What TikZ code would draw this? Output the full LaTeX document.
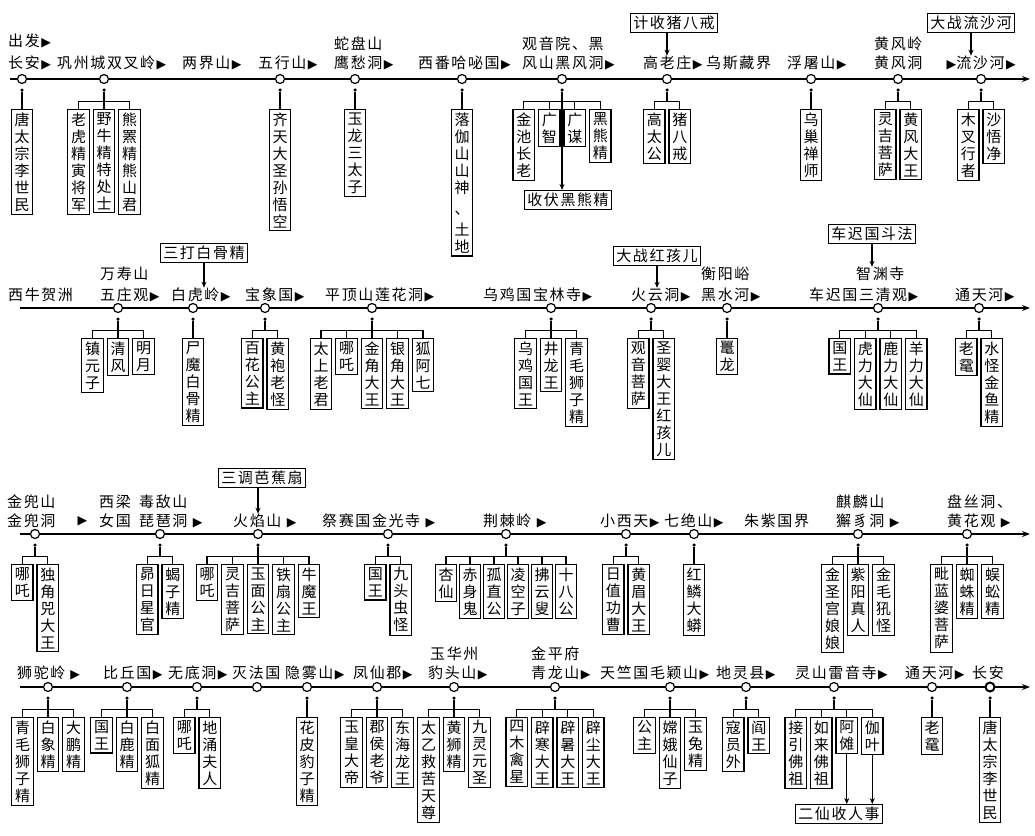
\documentclass[tikz,border=0pt]{standalone}
\usepackage{fontspec}
\setmainfont{Noto Sans CJK SC}
\newfontfamily\symfont{DejaVu Sans}
\newcommand\tri{\hspace{1.5pt}{\symfont\fontsize{12.5}{12}\selectfont ▶}}
% a little air between the Chinese characters of a label
\newXeTeXintercharclass\hanclass
\newcount\hanc
\hanc="4E00
\loop
  \XeTeXcharclass\hanc=\hanclass
  \advance\hanc 1
\ifnum\hanc<"A000 \repeat
\XeTeXcharclass"3001=\hanclass
\XeTeXinterchartokenstate=1
\XeTeXinterchartoks\hanclass\hanclass = {\hskip 1.6pt\relax}
\usetikzlibrary{arrows.meta,positioning,trees}

\tikzset{
  stop/.style={circle,draw,fill=white,line width=1.2pt,minimum size=9pt,inner sep=0pt},
  joint/.style={circle,fill,inner sep=0pt,minimum size=3.5pt},
  cast/.style={draw,line width=1.1pt,align=center,anchor=north,inner xsep=3.25pt,inner ysep=3pt,
    font=\fontsize{15}{17}\selectfont},
  tag/.style={anchor=west,inner sep=0pt,font=\fontsize{15}{16}\selectfont},
  note/.style={draw,line width=1.1pt,inner xsep=3pt,inner ysep=2.5pt,font=\fontsize{15}{16}\selectfont},
  route/.style={line width=1.2pt,-{Stealth[length=8pt,width=6pt]}},
  hint/.style={line width=1.1pt,-{Stealth[length=6pt,width=5pt]}}
}

\begin{document}
\begin{tikzpicture}
[
x = 1pt, y = -1pt,
level distance = 19pt,
sibling distance = 25.5pt,
edge from parent fork down,
parent anchor = south, child anchor = north,
edge from parent/.style = {draw,line width=1.1pt},
every child node/.style = {cast}
]
\useasboundingbox (0,0) rectangle (1035,835);

% ---- row 1
\coordinate (r1s) at (10,79);
\coordinate (r1e) at (1030,79);
\draw[route] (r1s) -- (r1e);

\node[tag] (chufa) at (8,41) {出发\tri};
\node[tag] (ca1-l) at (8,63) {长安\tri};
\node[tag] (gz-l) at (57,63) {巩州城双叉岭\tri};
\node[tag] (ljs-l) at (182,63) {两界山\tri};
\node[tag] (wxs-l) at (258,63) {五行山\tri};
\node[tag] (sps-l1) at (334,44) {蛇盘山};
\node[tag] (sps-l) at (334,63) {鹰愁洞\tri};
\node[tag] (xf-l) at (418,63) {西番哈咇国\tri};
\node[tag] (gy-l1) at (522,44) {观音院、黑};
\node[tag] (gy-l) at (522,63) {风山黑风洞\tri};
\node[tag] (gl-l) at (643,63) {高老庄\tri};
\node[tag] (wsz-l) at (706,63) {乌斯藏界};
\node[tag] (fts-l) at (787,63) {浮屠山\tri};
\node[tag] (hf-l1) at (874,44) {黄风岭};
\node[tag] (hf-l) at (874,63) {黄风洞};
\node[tag] (lsh-l) at (945,63) {\tri 流沙河\tri};

\node[stop] (ca1) at (22,79) {};
\node[stop] (gz) at (104,79) {};
\node[stop] (wxs) at (280,79) {};
\node[stop] (sps) at (355,79) {};
\node[stop] (xf) at (462,79) {};
\node[stop] (gy) at (562,79) {};
\node[stop] (gl) at (667,79) {};
\node[stop] (fts) at (811,79) {};
\node[stop] (hf) at (898,79) {};
\node[stop] (lsh) at (981,79) {};

\node[joint] (ca1-d) at (22,90) {}
    child {node (ca1-1) {唐\\太\\宗\\李\\世\\民}};
\node[joint] (gz-d) at (104,90) {}
    child {node (gz-1) {老\\虎\\精\\寅\\将\\军}}
    child {node (gz-2) {野\\牛\\精\\特\\处\\士}}
    child {node (gz-3) {熊\\罴\\精\\熊\\山\\君}};
\node[joint] (wxs-d) at (280,90) {}
    child {node (wxs-1) {齐\\天\\大\\圣\\孙\\悟\\空}};
\node[joint] (sps-d) at (355,90) {}
    child {node (sps-1) {玉\\龙\\三\\太\\子}};
\node[joint] (xf-d) at (462,90) {}
    child {node (xf-1) {落\\伽\\山\\山\\神\\[4pt]、\\[4pt]土\\地}};
\node[joint] (gy-d) at (562,90) {}
    child {node (gy-1) {金\\池\\长\\老}}
    child {node (gy-2) {广\\智}}
    child {node (gy-3) {广\\谋}}
    child {node (gy-4) {黑\\熊\\精}};
\node[joint] (gl-d) at (667,90) {}
    child {node (gl-1) {高\\太\\公}}
    child {node (gl-2) {猪\\八\\戒}};
\node[joint] (fts-d) at (811,90) {}
    child {node (fts-1) {乌\\巢\\禅\\师}};
\node[joint] (hf-d) at (898,90) {}
    child {node (hf-1) {灵\\吉\\菩\\萨}}
    child {node (hf-2) {黄\\风\\大\\王}};
\node[joint] (lsh-d) at (981,90) {}
    child {node (lsh-1) {木\\叉\\行\\者}}
    child {node (lsh-2) {沙\\悟\\净}};

\node[note] (shou) at (568,200) {收伏黑熊精};
\draw[hint] (gy-d) -- (gy-d |- shou.north);
\node[note] (jb) at (674,23) {计收猪八戒};
\draw[hint] (jb.south -| gl) -- (gl-l.north -| gl);
\node[note] (dzls) at (971,23) {大战流沙河};
\draw[hint] (dzls.south) -- (dzls.south |- lsh-l.north);

% ---- row 2
\coordinate (r2s) at (20,308);
\coordinate (r2e) at (1030,308);
\draw[route] (r2s) -- (r2e);

\node[tag] (xn-l) at (8,295) {西牛贺洲};
\node[tag] (wz-l1) at (100,274) {万寿山};
\node[tag] (wz-l) at (100,295) {五庄观\tri};
\node[tag] (bh-l) at (171,295) {白虎岭\tri};
\node[tag] (bx-l) at (245,295) {宝象国\tri};
\node[tag] (pd-l) at (325,295) {平顶山莲花洞\tri};
\node[tag] (wj-l) at (483,295) {乌鸡国宝林寺\tri};
\node[tag] (hy-l) at (631,295) {火云洞\tri};
\node[tag] (hs-l1) at (701,274) {衡阳峪};
\node[tag] (hs-l) at (701,295) {黑水河\tri};
\node[tag] (cc-l1) at (856,274) {智渊寺};
\node[tag] (cc-l) at (809,295) {车迟国三清观\tri};
\node[tag] (tt-l) at (955,295) {通天河\tri};

\node[stop] (wz) at (118,308) {};
\node[stop] (bh) at (193,308) {};
\node[stop] (bx) at (265,308) {};
\node[stop] (pd) at (372,308) {};
\node[stop] (wj) at (551,308) {};
\node[stop] (hy) at (651,308) {};
\node[stop] (hs) at (727,308) {};
\node[stop] (cc) at (878,308) {};
\node[stop] (tt) at (979,308) {};

\node[joint] (wz-d) at (118,319) {}
    child {node (wz-1) {镇\\元\\子}}
    child {node (wz-2) {清\\风}}
    child {node (wz-3) {明\\月}};
\node[joint] (bh-d) at (193,319) {}
    child {node (bh-1) {尸\\魔\\白\\骨\\精}};
\node[joint] (bx-d) at (265,319) {}
    child {node (bx-1) {百\\花\\公\\主}}
    child {node (bx-2) {黄\\袍\\老\\怪}};
\node[joint] (pd-d) at (372,319) {}
    child {node (pd-1) {太\\上\\老\\君}}
    child {node (pd-2) {哪\\吒}}
    child {node (pd-3) {金\\角\\大\\王}}
    child {node (pd-4) {银\\角\\大\\王}}
    child {node (pd-5) {狐\\阿\\七}};
\node[joint] (wj-d) at (551,319) {}
    child {node (wj-1) {乌\\鸡\\国\\王}}
    child {node (wj-2) {井\\龙\\王}}
    child {node (wj-3) {青\\毛\\狮\\子\\精}};
\node[joint] (hy-d) at (651,319) {}
    child {node (hy-1) {观\\音\\菩\\萨}}
    child {node (hy-2) {圣\\婴\\大\\王\\红\\孩\\儿}};
\node[joint] (hs-d) at (727,319) {}
    child {node (hs-1) {鼍\\龙}};
\node[joint] (cc-d) at (878,319) {}
    child {node (cc-1) {国\\王}}
    child {node (cc-2) {虎\\力\\大\\仙}}
    child {node (cc-3) {鹿\\力\\大\\仙}}
    child {node (cc-4) {羊\\力\\大\\仙}};
\node[joint] (tt-d) at (979,319) {}
    child {node (tt-1) {老\\鼋}}
    child {node (tt-2) {水\\怪\\金\\鱼\\精}};

\node[note] (sdbg) at (204,253) {三打白骨精};
\draw[hint] (sdbg.south) -- (sdbg.south |- bh-l.north);
\node[note] (dzhh) at (657,256) {大战红孩儿};
\draw[hint] (dzhh.south) -- (dzhh.south |- hy-l.north);
\node[note] (ccdf) at (872,234) {车迟国斗法};
\draw[hint] (ccdf.south) -- (ccdf.south |- cc-l1.north);

% ---- row 3
\coordinate (r3s) at (20,534);
\coordinate (r3e) at (1030,534);
\draw[route] (r3s) -- (r3e);

\node[tag] (jd-l1) at (7,502) {金兜山};
\node[tag] (jd-l) at (7,521) {金兜洞};
\node[tag] (jd-a) at (76,521) {\tri};
\node[tag] (xl-l1) at (99,502) {西梁};
\node[tag] (xl-l) at (99,521) {女国};
\node[tag] (pp-l1) at (139,502) {毒敌山};
\node[tag] (pp-l) at (139,521) {琵琶洞\hspace{4pt}\tri};
\node[tag] (hys-l) at (233,521) {火焰山\hspace{4pt}\tri};
\node[tag] (jg-l) at (322,521) {祭赛国金光寺\hspace{4pt}\tri};
\node[tag] (jj-l) at (483,521) {荆棘岭\hspace{4pt}\tri};
\node[tag] (xxt-l) at (600,521) {小西天\tri};
\node[tag] (qj-l) at (664,521) {七绝山\tri};
\node[tag] (zz-l) at (744,521) {朱紫国界};
\node[tag] (xz-l1) at (836,502) {麒麟山};
\node[tag] (xz-l) at (836,521) {獬豸洞\hspace{4pt}\tri};
\node[tag] (hh-l1) at (947,502) {盘丝洞、};
\node[tag] (hh-l) at (947,521) {黄花观\hspace{4pt}\tri};

\node[stop] (jd) at (35,534) {};
\node[stop] (pp) at (160,534) {};
\node[stop] (hys) at (258,534) {};
\node[stop] (jg) at (388,534) {};
\node[stop] (jj) at (506,534) {};
\node[stop] (xxt) at (626,534) {};
\node[stop] (qj) at (694,534) {};
\node[stop] (xz) at (858,534) {};
\node[stop] (hh) at (967,534) {};

\node[joint] (jd-d) at (35,545) {}
    child {node (jd-1) {哪\\吒}}
    child {node (jd-2) {独\\角\\兕\\大\\王}};
\node[joint] (pp-d) at (160,545) {}
    child {node (pp-1) {昴\\日\\星\\官}}
    child {node (pp-2) {蝎\\子\\精}};
\node[joint] (hys-d) at (258,545) {}
    child {node (hys-1) {哪\\吒}}
    child {node (hys-2) {灵\\吉\\菩\\萨}}
    child {node (hys-3) {玉\\面\\公\\主}}
    child {node (hys-4) {铁\\扇\\公\\主}}
    child {node (hys-5) {牛\\魔\\王}};
\node[joint] (jg-d) at (388,545) {}
    child {node (jg-1) {国\\王}}
    child {node (jg-2) {九\\头\\虫\\怪}};
\begin{scope}[sibling distance = 24pt]
\node[joint] (jj-d) at (506,545) {}
    child {node (jj-1) {杏\\仙}}
    child {node (jj-2) {赤\\身\\鬼}}
    child {node (jj-3) {孤\\直\\公}}
    child {node (jj-4) {凌\\空\\子}}
    child {node (jj-5) {拂\\云\\叟}}
    child {node (jj-6) {十\\八\\公}};
\end{scope}
\node[joint] (xxt-d) at (626,545) {}
    child {node (xxt-1) {日\\值\\功\\曹}}
    child {node (xxt-2) {黄\\眉\\大\\王}};
\node[joint] (qj-d) at (694,545) {}
    child {node (qj-1) {红\\鳞\\大\\蟒}};
\node[joint] (xz-d) at (858,545) {}
    child {node (xz-1) {金\\圣\\宫\\娘\\娘}}
    child {node (xz-2) {紫\\阳\\真\\人}}
    child {node (xz-3) {金\\毛\\犼\\怪}};
\node[joint] (hh-d) at (967,545) {}
    child {node (hh-1) {毗\\蓝\\婆\\菩\\萨}}
    child {node (hh-2) {蜘\\蛛\\精}}
    child {node (hh-3) {蜈\\蚣\\精}};

\node[note] (sdjs) at (262,478) {三调芭蕉扇};
\draw[hint] (sdjs.south -| hys) -- (hys-l.north -| hys);

% ---- row 4
\coordinate (r4s) at (20,687);
\coordinate (r4e) at (1030,687);
\draw[route] (r4s) -- (r4e);

\node[tag] (std-l) at (17,673) {狮驼岭 \tri};
\node[tag] (bq-l) at (103,673) {比丘国\tri};
\node[tag] (wd-l) at (168,673) {无底洞\tri};
\node[tag] (mf-l) at (232,673) {灭法国};
\node[tag] (yw-l) at (285,673) {隐雾山\tri};
\node[tag] (fx-l) at (353,673) {凤仙郡\tri};
\node[tag] (bt-l1) at (430,654) {玉华州};
\node[tag] (bt-l) at (428,673) {豹头山\tri};
\node[tag] (ql-l1) at (531,654) {金平府};
\node[tag] (ql-l) at (531,673) {青龙山\tri};
\node[tag] (my-l) at (600,673) {天竺国毛颖山\tri};
\node[tag] (dl-l) at (716,673) {地灵县\tri};
\node[tag] (ls-l) at (795,673) {灵山雷音寺\tri};
\node[tag] (tt2-l) at (905,673) {通天河\tri};
\node[tag] (ca2-l) at (972,673) {长安};

\node[stop] (std) at (48,687) {};
\node[stop] (bq) at (127,687) {};
\node[stop] (wd) at (197,687) {};
\node[stop] (mf) at (257,687) {};
\node[stop] (yw) at (307,687) {};
\node[stop] (fx) at (377,687) {};
\node[stop] (bt) at (454,687) {};
\node[stop] (ql) at (555,687) {};
\node[stop] (my) at (670,687) {};
\node[stop] (dl) at (746,687) {};
\node[stop] (ls) at (834,687) {};
\node[stop] (tt2) at (932,687) {};
\node[stop,line width=2pt] (ca2) at (990,687) {};

\node[joint] (std-d) at (48,698) {}
    child {node (std-1) {青\\毛\\狮\\子\\精}}
    child {node (std-2) {白\\象\\精}}
    child {node (std-3) {大\\鹏\\精}};
\node[joint] (bq-d) at (127,698) {}
    child {node (bq-1) {国\\王}}
    child {node (bq-2) {白\\鹿\\精}}
    child {node (bq-3) {白\\面\\狐\\精}};
\node[joint] (wd-d) at (197,698) {}
    child {node (wd-1) {哪\\吒}}
    child {node (wd-2) {地\\涌\\夫\\人}};
\node[joint] (yw-d) at (307,698) {}
    child {node (yw-1) {花\\皮\\豹\\子\\精}};
\node[joint] (fx-d) at (377,698) {}
    child {node (fx-1) {玉\\皇\\大\\帝}}
    child {node (fx-2) {郡\\侯\\老\\爷}}
    child {node (fx-3) {东\\海\\龙\\王}};
\node[joint] (bt-d) at (454,698) {}
    child {node (bt-1) {太\\乙\\救\\苦\\天\\尊}}
    child {node (bt-2) {黄\\狮\\精}}
    child {node (bt-3) {九\\灵\\元\\圣}};
\node[joint] (ql-d) at (555,698) {}
    child {node (ql-1) {四\\木\\禽\\星}}
    child {node (ql-2) {辟\\寒\\大\\王}}
    child {node (ql-3) {辟\\暑\\大\\王}}
    child {node (ql-4) {辟\\尘\\大\\王}};
\node[joint] (my-d) at (670,698) {}
    child {node (my-1) {公\\主}}
    child {node (my-2) {嫦\\娥\\仙\\子}}
    child {node (my-3) {玉\\兔\\精}};
\node[joint] (dl-d) at (746,698) {}
    child {node (dl-1) {寇\\员\\外}}
    child {node (dl-2) {阎\\王}};
\node[joint] (ls-d) at (834,698) {}
    child {node (ls-1) {接\\引\\佛\\祖}}
    child {node (ls-2) {如\\来\\佛\\祖}}
    child {node (ls-3) {阿\\傩}}
    child {node (ls-4) {伽\\叶}};
\node[joint] (tt2-d) at (932,698) {}
    child {node (tt2-1) {老\\鼋}};
\node[joint] (ca2-d) at (990,698) {}
    child {node (ca2-1) {唐\\太\\宗\\李\\世\\民}};

\node[note] (erxian) at (839,814) {二仙收人事};
\draw[hint] (ls-3.south) -- (ls-3.south |- erxian.north);
\draw[hint] (ls-4.south) -- (ls-4.south |- erxian.north);
\end{tikzpicture}
\end{document}
